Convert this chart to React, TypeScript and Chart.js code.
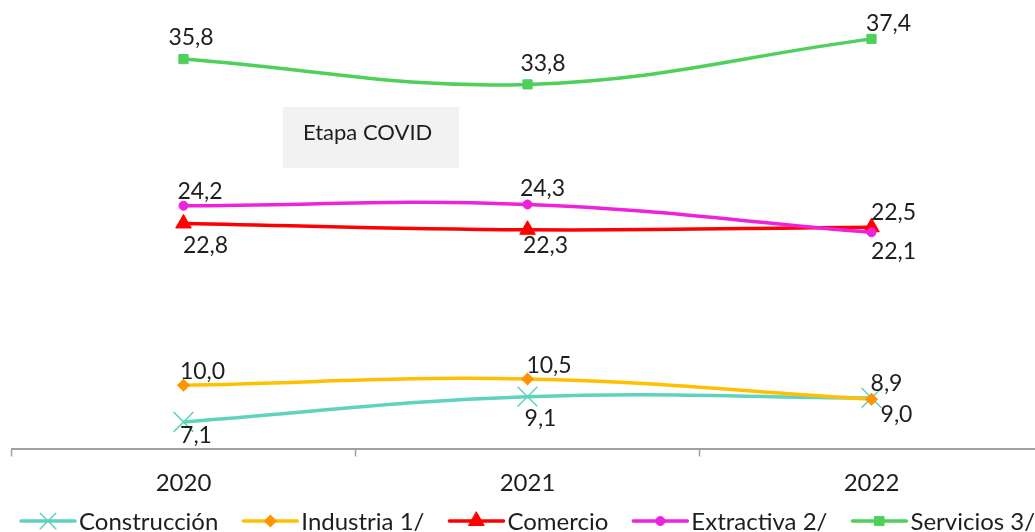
import React, { useEffect, useRef } from 'react';
import { Chart, registerables } from 'chart.js';
import { drawPoint } from 'chart.js/helpers';

Chart.register(...registerables);

// ---------- data ----------
const categories = ['2020', '2021', '2022'];
const seriesNames = ['Construcción', 'Industria 1/', 'Comercio', 'Extractiva 2/', 'Servicios 3/'];
const construccion = [7.1, 9.1, 9.0];
const industria = [10.0, 10.5, 8.9];
const comercio = [22.8, 22.3, 22.5];
const extractiva = [24.2, 24.3, 22.1];
const servicios = [35.8, 33.8, 37.4];
const seriesValues = [construccion, industria, comercio, extractiva, servicios];
const yMin = 5;
const yMax = 40;
const annotationText = 'Etapa COVID';

// ---------- styles ----------
const FONT = "Lato, 'Open Sans', sans-serif";
const TEXT_COLOR = '#1e1e1e';
const seriesStyles = [
  { line: '#5ED3BD', fill: '#5ED3BD', border: '#5ED3BD', pointStyle: 'crossRot', radius: 14, legendRadius: 11, pointBorderWidth: 1.5,
    labelOffsets: [[12.5, 13], [13, 21.5], [25, 16]] },
  { line: '#FFC000', fill: '#FF9400', border: '#FF9400', pointStyle: 'rectRot', radius: 5.5, legendRadius: 5.5, pointBorderWidth: 1.5,
    labelOffsets: [[19, -14.6], [21.5, -14.3], [15, -16.5]] },
  { line: '#FF0000', fill: '#FF0000', border: '#FF0000', pointStyle: 'triangle', radius: 9, legendRadius: 9, pointBorderWidth: 1,
    labelOffsets: [[22, 21.6], [18, 15.3], [22, -15.5]] },
  { line: '#EE22DA', fill: '#EE22DA', border: '#EE22DA', pointStyle: 'circle', radius: 4.5, legendRadius: 4.5, pointBorderWidth: 1,
    labelOffsets: [[16.5, -14.7], [15, -16.5], [22, 18.5]] },
  { line: '#4ED05A', fill: '#4ED05A', border: '#4ED05A', pointStyle: 'rect', radius: 6.5, legendRadius: 6.5, pointBorderWidth: 1,
    labelOffsets: [[7.5, -22.7], [15.5, -21.4], [17, -16]] },
];
const annotationBox = { x: 283, y: 107, w: 176, h: 61, fill: '#F2F2F2', textX: 303, textBaseline: 140, fontSize: 22 };
const legendStyle = { startX: 21, y: 521, lineLen: 54, textGap: 4, itemGap: 25, fontSize: 24, textBaselineOffset: 8.5 };
const labelFontSize = 23;

const fmt = (v: number) => v.toFixed(1).replace('.', ',');

const overlayPlugin = {
  id: 'overlay',
  beforeDatasetsDraw(chart: any) {
    const ctx = chart.ctx as CanvasRenderingContext2D;
    ctx.save();
    ctx.fillStyle = annotationBox.fill;
    ctx.fillRect(annotationBox.x, annotationBox.y, annotationBox.w, annotationBox.h);
    ctx.fillStyle = TEXT_COLOR;
    ctx.font = `${annotationBox.fontSize}px ${FONT}`;
    ctx.textAlign = 'left';
    ctx.textBaseline = 'alphabetic';
    ctx.fillText(annotationText, annotationBox.textX, annotationBox.textBaseline);
    ctx.restore();
  },
  afterDatasetsDraw(chart: any) {
    const ctx = chart.ctx as CanvasRenderingContext2D;
    ctx.save();
    ctx.fillStyle = TEXT_COLOR;
    ctx.font = `${labelFontSize}px ${FONT}`;
    ctx.textAlign = 'center';
    ctx.textBaseline = 'alphabetic';
    seriesValues.forEach((vals, i) => {
      const meta = chart.getDatasetMeta(i);
      meta.data.forEach((pt: any, j: number) => {
        const [dx, dy] = seriesStyles[i].labelOffsets[j];
        ctx.fillText(fmt(vals[j]), pt.x + dx, pt.y + dy + labelFontSize * 0.36);
      });
    });
    ctx.restore();
  },
  afterDraw(chart: any) {
    const ctx = chart.ctx as CanvasRenderingContext2D;
    ctx.save();
    ctx.font = `${legendStyle.fontSize}px ${FONT}`;
    let x = legendStyle.startX;
    const y = legendStyle.y;
    seriesNames.forEach((name, i) => {
      const st = seriesStyles[i];
      ctx.strokeStyle = st.line;
      ctx.lineWidth = 3.5;
      ctx.lineCap = 'round';
      ctx.beginPath();
      ctx.moveTo(x, y);
      ctx.lineTo(x + legendStyle.lineLen, y);
      ctx.stroke();
      ctx.fillStyle = st.fill;
      ctx.strokeStyle = st.border;
      ctx.lineWidth = st.pointBorderWidth;
      drawPoint(ctx, { pointStyle: st.pointStyle as any, radius: st.legendRadius, rotation: 0, borderWidth: st.pointBorderWidth }, x + legendStyle.lineLen / 2, y);
      const tx = x + legendStyle.lineLen + legendStyle.textGap;
      ctx.fillStyle = TEXT_COLOR;
      ctx.textAlign = 'left';
      ctx.textBaseline = 'alphabetic';
      ctx.fillText(name, tx, y + legendStyle.textBaselineOffset);
      x = tx + ctx.measureText(name).width + legendStyle.itemGap;
    });
    ctx.restore();
  },
};

export default function App() {
  const canvasRef = useRef<HTMLCanvasElement | null>(null);

  useEffect(() => {
    document.body.style.margin = '0';
    const canvas = canvasRef.current;
    if (!canvas) return;
    const n = seriesValues.length;
    const chart = new Chart(canvas, {
      type: 'line',
      data: {
        labels: categories,
        datasets: seriesValues.map((vals, i) => {
          const st = seriesStyles[i];
          return {
            label: seriesNames[i],
            data: vals,
            borderColor: st.line,
            backgroundColor: st.fill,
            borderWidth: 3.5,
            tension: 0.4,
            pointStyle: st.pointStyle as any,
            pointRadius: st.radius,
            pointBackgroundColor: st.fill,
            pointBorderColor: st.border,
            pointBorderWidth: st.pointBorderWidth,
            fill: false,
            clip: false as any,
            order: n - i,
          };
        }),
      },
      options: {
        responsive: false,
        animation: false,
        devicePixelRatio: 1,
        events: [],
        layout: { autoPadding: false, padding: { left: 11.5, right: 16.5, top: 6, bottom: 22.7 } },
        plugins: {
          legend: { display: false },
          tooltip: { enabled: false },
          title: { display: false },
        },
        scales: {
          x: {
            type: 'category',
            offset: true,
            grid: {
              offset: true,
              drawOnChartArea: false,
              drawTicks: true,
              tickLength: 8,
              tickWidth: 1.5,
              tickColor: '#A0A0A0',
            },
            border: { display: true, color: '#A0A0A0', width: 2 },
            ticks: {
              color: TEXT_COLOR,
              font: { family: FONT, size: 24 },
              padding: 12,
              maxRotation: 0,
              autoSkip: false,
            },
          },
          y: {
            display: false,
            min: yMin,
            max: yMax,
          },
        },
      },
      plugins: [overlayPlugin],
    });
    return () => chart.destroy();
  }, []);

  return (
    <div style={{ width: 1035, height: 532, overflow: 'hidden', position: 'relative' }}>
      <canvas ref={canvasRef} width={1060} height={532} style={{ display: 'block', width: 1060, height: 532 }} />
    </div>
  );
}
